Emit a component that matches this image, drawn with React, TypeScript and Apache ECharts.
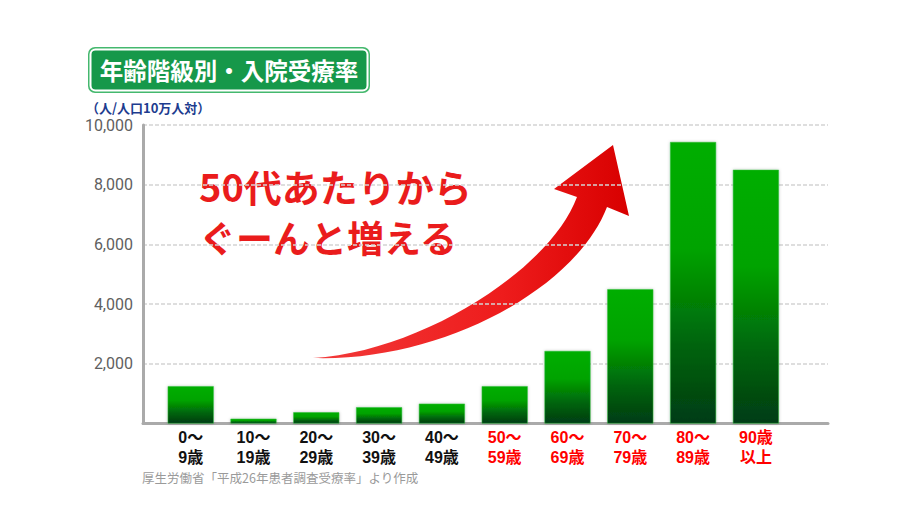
import React, { useEffect, useRef } from "react";
import * as echarts from "echarts";

const categories = ["0～\n9歳", "10～\n19歳", "20～\n29歳", "30～\n39歳", "40～\n49歳", "50～\n59歳", "60～\n69歳", "70～\n79歳", "80～\n89歳", "90歳\n以上"];
const values = [1250, 160, 375, 545, 665, 1250, 2430, 4500, 9430, 8500];
const labelColors = ["#111", "#111", "#111", "#111", "#111", "#f00", "#f00", "#f00", "#f00", "#f00"];
const yTicks = [0, 2000, 4000, 6000, 8000, 10000];
const titleText = "年齢階級別・入院受療率";
const unitText = "（人/人口10万人対）";
const sourceText = "厚生労働省「平成26年患者調査受療率」より作成";
const noteLines = ["50代あたりから", "ぐーんと増える"];

const ARROW_D =
  "M313 358 C420 352 550 270 577 197 L554 189 L613 145 L629 216 L607 207 C575 290 440 362 313 358 Z";

let registered = false;
function ensureShape() {
  if (registered) return;
  echarts.graphic.registerShape("bigArrow", echarts.graphic.extendPath(ARROW_D, {}));
  registered = true;
}

export default function App() {
  const ref = useRef<HTMLDivElement>(null);
  useEffect(() => {
    if (!ref.current) return;
    ensureShape();
    const chart = echarts.init(ref.current, undefined, { renderer: "svg" });
    const yMin = yTicks[0];
    const yMax = yTicks[yTicks.length - 1];
    const yInterval = yTicks[1] - yTicks[0];
    const barGradient = {
      type: "linear",
      x: 0, y: 0, x2: 0, y2: 1,
      colorStops: [
        { offset: 0, color: "#00ae00" },
        { offset: 0.38, color: "#00a300" },
        { offset: 0.72, color: "#00640b" },
        { offset: 1, color: "#003c14" },
      ],
    };
    chart.setOption({
      animation: false,
      backgroundColor: "#ffffff",
      grid: [
        { left: 143, right: 92, top: 125, bottom: 94.5 },
        { left: 159.3, width: 628, top: 125, bottom: 94.5 },
      ],
      xAxis: [
        {
          gridIndex: 0,
          type: "value",
          min: 0,
          max: 1,
          axisLine: { show: true, lineStyle: { color: "#aaaaaa", width: 3 } },
          axisTick: { show: false },
          axisLabel: { show: false },
          splitLine: { show: false },
        },
        {
          gridIndex: 1,
          type: "category",
          data: categories.map((c, i) => ({ value: c, textStyle: { color: labelColors[i] } })),
          axisLine: { show: false },
          axisTick: { show: false },
          axisLabel: {
            margin: 4,
            fontSize: 16,
            fontWeight: "bold",
            lineHeight: 20,
            fontFamily: "'Liberation Sans', 'Noto Sans CJK JP', sans-serif",
            interval: 0,
          },
        },
      ],
      yAxis: [
        {
          gridIndex: 0,
          type: "value",
          min: yMin,
          max: yMax,
          interval: yInterval,
          axisLine: { show: true, lineStyle: { color: "#aaaaaa", width: 3 } },
          axisTick: { show: false },
          axisLabel: {
            margin: 10,
            color: "#606060",
            fontSize: 16,
            fontFamily: "Roboto, 'Liberation Sans', sans-serif",
            formatter: (v: number) => (v === 0 ? "" : v.toLocaleString("en-US")),
          },
          splitLine: { show: true, lineStyle: { color: "#d4d4d4", type: [4, 2], width: 1.5 } },
        },
        {
          gridIndex: 1,
          type: "value",
          min: yMin,
          max: yMax,
          interval: yInterval,
          show: false,
        },
      ],
      series: [
        {
          type: "bar",
          xAxisIndex: 1,
          yAxisIndex: 1,
          data: values,
          barWidth: 46,
          itemStyle: {
            color: barGradient,
            borderColor: "#2fbf3a",
            borderWidth: 0.5,
            shadowBlur: 3,
            shadowColor: "rgba(0,0,0,0.25)",
          },
        },
      ],
      graphic: [
        {
          type: "rect",
          shape: { x: 88, y: 47, width: 282, height: 46, r: 7 },
          style: { fill: "#45b86e" },
        },
        {
          type: "rect",
          shape: { x: 90.5, y: 49.5, width: 277, height: 41, r: 5 },
          style: { fill: "#16984a", stroke: "#ffffff", lineWidth: 2 },
        },
        {
          type: "text",
          x: 229,
          y: 70,
          style: {
            text: titleText,
            fill: "#ffffff",
            font: "bold 23.5px 'Noto Sans CJK JP', sans-serif",
            align: "center",
            verticalAlign: "middle",
          },
        },
        {
          type: "text",
          x: 86,
          y: 107,
          style: {
            text: unitText,
            fill: "#1d3c8f",
            font: "bold 13px 'Noto Sans CJK JP', sans-serif",
            align: "left",
            verticalAlign: "middle",
          },
        },
        {
          type: "text",
          x: 142,
          y: 477,
          style: {
            text: sourceText,
            fill: "#9a9a9a",
            font: "12.5px 'Noto Sans CJK JP', sans-serif",
            align: "left",
            verticalAlign: "middle",
          },
        },
        {
          type: "bigArrow",
          x: 0,
          y: 0,
          style: {
            fill: {
              type: "linear",
              x: 0, y: 0, x2: 1, y2: 0,
              colorStops: [
                { offset: 0, color: "#f23a3a" },
                { offset: 0.6, color: "#ee1c1c" },
                { offset: 1, color: "#d80000" },
              ],
            },
          },
        },
        {
          type: "text",
          x: 199,
          y: 185,
          style: {
            text: noteLines[0],
            fill: "#ea1c1c",
            font: "bold 38px 'Noto Sans CJK JP', sans-serif",
            align: "left",
            verticalAlign: "middle",
          },
        },
        {
          type: "text",
          x: 199,
          y: 237,
          style: {
            text: noteLines[1],
            fill: "#ea1c1c",
            font: "bold 37px 'Noto Sans CJK JP', sans-serif",
            align: "left",
            verticalAlign: "middle",
          },
        },
      ],
    });
    return () => chart.dispose();
  }, []);
  return (
    <div
      ref={ref}
      style={{ position: "fixed", left: 0, top: 0, width: 920, height: 518, background: "#fff" }}
    />
  );
}
